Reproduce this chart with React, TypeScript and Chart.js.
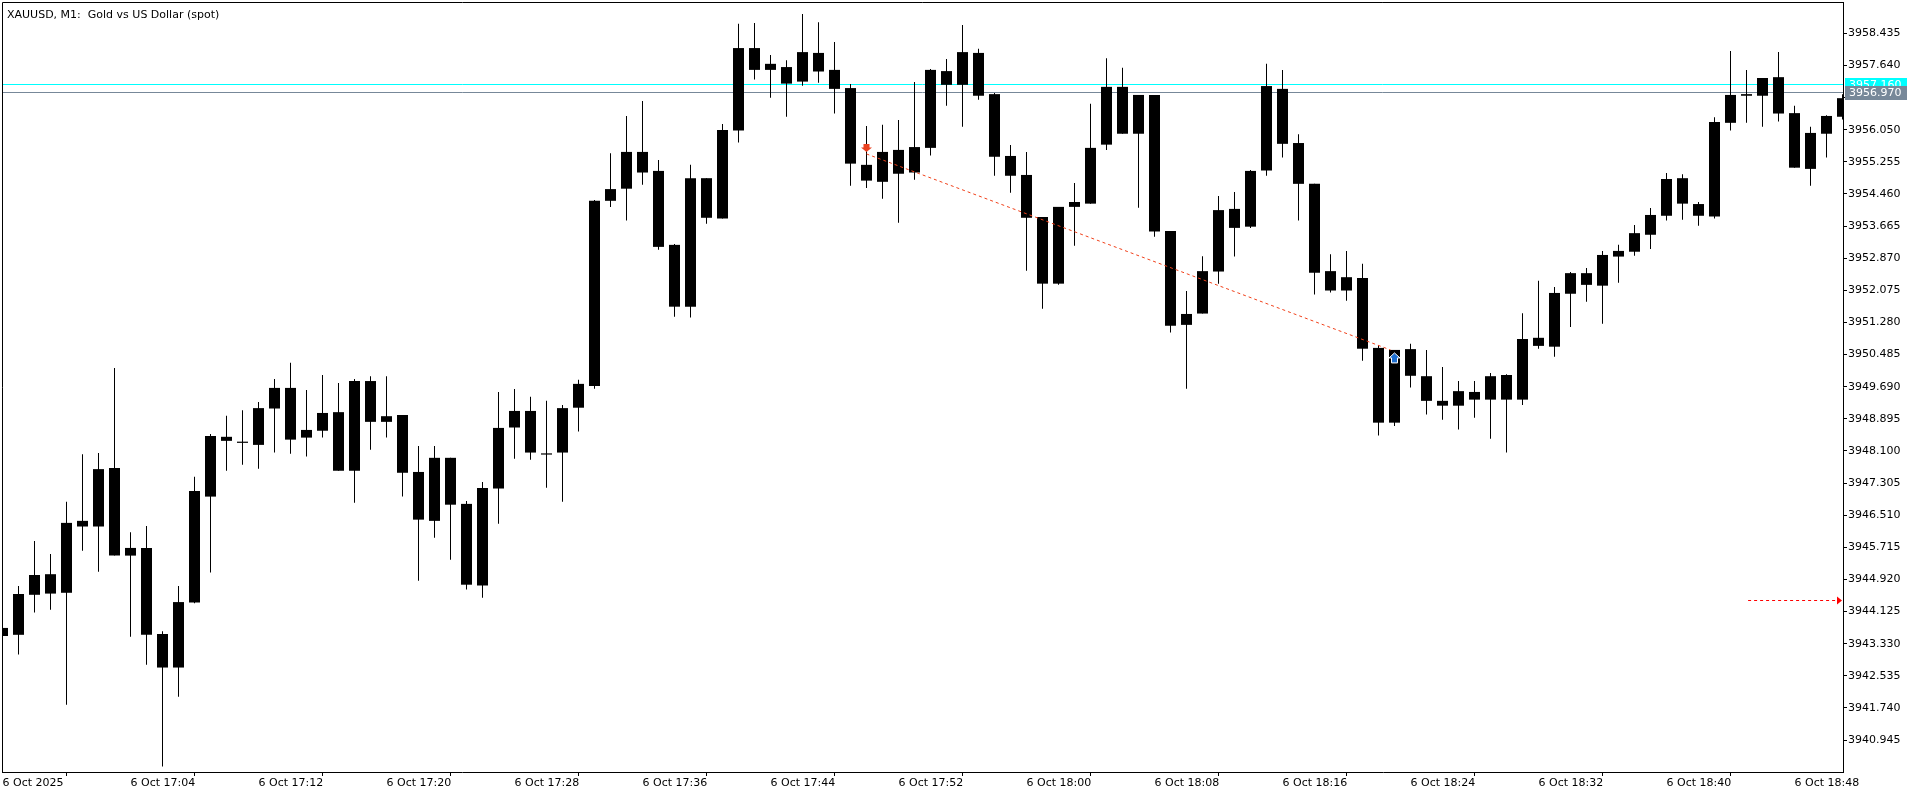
import React, { useEffect, useRef } from 'react';
import { Chart, registerables } from 'chart.js';

Chart.register(...registerables);

const TITLE = 'XAUUSD, M1:  Gold vs US Dollar (spot)';
const FONT = 'DejaVu Sans';

// one-minute bars, 16:56 .. 18:51 (category labels)
const times: string[] = Array.from({ length: 116 }, (_, i) => {
  const m = 16 * 60 + 56 + i;
  return `${Math.floor(m / 60)}:${String(m % 60).padStart(2, '0')}`;
});

const open = [3943.72,3943.55,3944.54,3945.05,3944.59,3946.37,3946.23,3947.68,3945.51,3945.70,
3943.57,3942.74,3944.35,3946.97,3948.45,3948.33,3948.25,3949.15,3949.66,3948.43,
3948.60,3949.06,3947.61,3949.83,3948.82,3948.99,3947.58,3946.37,3947.93,3946.79,
3944.77,3947.17,3948.68,3949.09,3948.04,3948.06,3949.17,3949.71,3954.29,3954.59,
3955.50,3955.03,3953.20,3951.67,3954.85,3953.85,3956.03,3958.07,3957.53,3957.60,
3957.24,3957.95,3957.53,3957.08,3955.18,3954.76,3955.55,3954.99,3955.60,3957.50,
3957.16,3957.95,3956.93,3955.40,3954.93,3953.89,3952.24,3954.14,3954.22,3955.68,
3957.11,3955.95,3956.91,3953.54,3951.22,3951.50,3952.54,3954.09,3953.65,3955.04,
3957.06,3955.72,3954.71,3952.55,3952.07,3952.38,3950.65,3948.80,3950.62,3949.95,
3949.34,3949.22,3949.56,3949.37,3949.98,3949.37,3950.90,3950.68,3951.99,3952.50,
3952.19,3952.91,3953.03,3953.45,3953.92,3954.85,3954.21,3953.90,3956.22,3956.93,
3956.89,3957.35,3956.46,3955.08,3955.95,3956.37];

const high = [3943.87,3944.76,3945.87,3945.55,3946.84,3948.02,3948.05,3950.15,3946.09,3946.24,
3943.64,3944.76,3947.46,3948.52,3948.97,3949.11,3949.31,3949.88,3950.28,3949.61,
3949.98,3949.78,3949.88,3949.95,3949.95,3948.99,3948.22,3948.22,3947.93,3946.86,
3947.33,3949.56,3949.63,3949.44,3949.34,3949.24,3949.86,3954.31,3955.47,3956.39,
3956.76,3955.30,3953.22,3955.18,3954.85,3956.19,3958.67,3958.69,3957.90,3957.77,
3958.91,3958.71,3958.22,3957.18,3956.14,3956.17,3956.29,3957.23,3957.55,3957.80,
3958.64,3958.05,3956.96,3955.67,3955.50,3953.89,3954.14,3954.73,3956.69,3957.82,
3957.58,3956.91,3956.91,3953.54,3952.06,3952.92,3954.41,3954.51,3955.05,3957.68,
3957.53,3955.94,3954.71,3952.97,3953.05,3952.73,3950.72,3950.60,3950.75,3950.60,
3950.18,3949.83,3949.83,3950.03,3950.00,3951.51,3952.31,3952.16,3952.53,3952.63,
3953.05,3953.20,3953.69,3954.11,3954.98,3954.95,3954.26,3956.36,3958.00,3957.53,
3957.33,3957.97,3956.64,3956.12,3956.41,3956.93];

const low = [3943.17,3943.06,3944.10,3944.17,3941.82,3945.63,3945.11,3945.51,3943.50,3942.81,
3940.29,3942.02,3944.33,3945.09,3947.61,3947.76,3947.66,3948.06,3948.03,3947.96,
3948.43,3947.61,3946.82,3948.13,3948.43,3946.97,3944.89,3945.95,3945.41,3944.67,
3944.47,3946.30,3947.91,3947.88,3947.19,3946.84,3948.58,3949.64,3954.14,3953.80,
3954.69,3953.08,3951.42,3951.40,3953.72,3953.85,3955.73,3957.29,3956.84,3956.37,
3957.14,3957.21,3956.45,3954.66,3954.61,3954.34,3953.75,3954.81,3955.41,3956.64,
3956.12,3956.79,3954.91,3954.49,3952.56,3951.62,3952.21,3953.18,3954.22,3955.55,
3955.95,3954.12,3953.40,3951.03,3949.64,3951.50,3952.24,3952.91,3953.62,3954.91,
3955.36,3953.80,3951.97,3952.02,3951.82,3950.33,3948.48,3948.72,3949.67,3949.00,
3948.87,3948.63,3948.92,3948.40,3948.06,3949.24,3950.63,3950.43,3951.17,3951.79,
3951.25,3952.26,3952.93,3953.10,3953.80,3953.82,3953.67,3953.85,3956.03,3956.22,
3956.12,3956.25,3955.11,3954.66,3955.36,3956.30];

const close = [3943.52,3944.56,3945.03,3944.57,3946.32,3946.23,3947.65,3945.51,3945.70,3943.55,
3942.74,3944.36,3947.11,3948.47,3948.35,3948.30,3949.16,3949.66,3948.38,3948.62,
3949.04,3947.61,3949.83,3948.82,3948.96,3947.56,3946.40,3947.93,3946.77,3944.79,
3947.18,3948.67,3949.09,3948.06,3948.01,3949.16,3949.76,3954.29,3954.58,3955.50,
3954.99,3953.15,3951.67,3954.85,3953.87,3956.04,3958.07,3957.53,3957.68,3957.19,
3957.97,3957.49,3957.06,3955.21,3954.79,3955.50,3954.96,3955.62,3957.53,3957.16,
3957.97,3956.89,3955.38,3954.91,3953.87,3952.24,3954.14,3954.26,3955.60,3957.11,
3955.95,3956.91,3953.53,3951.20,3951.49,3952.55,3954.06,3953.62,3955.03,3957.13,
3955.70,3954.71,3952.51,3952.07,3952.40,3950.63,3948.80,3950.60,3949.96,3949.34,
3949.22,3949.58,3949.37,3949.95,3949.37,3950.87,3950.70,3952.01,3952.50,3952.21,
3952.95,3953.05,3953.49,3953.94,3954.83,3954.22,3953.92,3956.24,3956.91,3956.89,
3957.33,3956.45,3955.11,3955.97,3956.39,3956.83];

const xTickTimes = ['16:56','17:04','17:12','17:20','17:28','17:36','17:44','17:52','18:00','18:08','18:16','18:24','18:32','18:40','18:48'];
const xTickLabels = ['6 Oct 2025','6 Oct 17:04','6 Oct 17:12','6 Oct 17:20','6 Oct 17:28','6 Oct 17:36','6 Oct 17:44','6 Oct 17:52','6 Oct 18:00','6 Oct 18:08','6 Oct 18:16','6 Oct 18:24','6 Oct 18:32','6 Oct 18:40','6 Oct 18:48'];

const yTickLabels = ['3940.945','3941.740','3942.535','3943.330','3944.125','3944.920','3945.715','3946.510','3947.305','3948.100','3948.895','3949.690','3950.485','3951.280','3952.075','3952.870','3953.665','3954.460','3955.255','3956.050','3956.845','3957.640','3958.435'];
const yMin = 3940.155;
const yMax = 3959.21;

const askPrice = 3957.16;
const bidPrice = 3956.97;

// closed sell trade: open -> close
const tradeTimes = ['17:50', '18:23'];
const tradePrices = [3955.45, 3950.60];

// dotted level arrow on the right
const levelPrice = 3944.40;
const levelStart = 109.1;

const mtPlugin = {
  id: 'mt',
  beforeDatasetsDraw(chart: any) {
    const { ctx, chartArea: a, scales } = chart;
    const y = scales.y;
    ctx.save();
    ctx.lineWidth = 1;
    const ya = Math.floor(y.getPixelForValue(askPrice)) + 0.5;
    ctx.strokeStyle = '#00ffff';
    ctx.beginPath(); ctx.moveTo(a.left, ya); ctx.lineTo(a.right, ya); ctx.stroke();
    const yb = Math.floor(y.getPixelForValue(bidPrice)) + 0.5;
    ctx.strokeStyle = '#778899';
    ctx.beginPath(); ctx.moveTo(a.left, yb); ctx.lineTo(a.right, yb); ctx.stroke();
    ctx.restore();
  },
  afterDatasetsDraw(chart: any) {
    const { ctx, chartArea: a, scales } = chart;
    const x = scales.x, y = scales.y;
    ctx.save();
    ctx.beginPath(); ctx.rect(a.left, a.top, a.right - a.left, a.bottom - a.top); ctx.clip();
    const i0 = times.indexOf(tradeTimes[0]);
    const i1 = times.indexOf(tradeTimes[1]);
    const x0 = x.getPixelForValue(i0), y0 = y.getPixelForValue(tradePrices[0]);
    const x1 = x.getPixelForValue(i1), y1 = y.getPixelForValue(tradePrices[1]);
    // dotted trade line
    ctx.strokeStyle = '#f0401a';
    ctx.lineWidth = 1;
    ctx.setLineDash([3, 3]);
    ctx.beginPath(); ctx.moveTo(x0, y0); ctx.lineTo(x1 - 4, y1); ctx.stroke();
    ctx.setLineDash([]);
    // sell arrow (down) above open point
    const tip = y0 - 2;
    ctx.fillStyle = '#ea4220';
    ctx.beginPath();
    ctx.moveTo(x0 - 3, tip - 8);
    ctx.lineTo(x0 + 3, tip - 8);
    ctx.lineTo(x0 + 3, tip - 4.5);
    ctx.lineTo(x0 + 5.5, tip - 4.5);
    ctx.lineTo(x0, tip);
    ctx.lineTo(x0 - 5.5, tip - 4.5);
    ctx.lineTo(x0 - 3, tip - 4.5);
    ctx.closePath();
    ctx.fill();
    // buy arrow (up) below close point
    const t2 = y1 + 3;
    ctx.fillStyle = '#1e6fd0';
    ctx.strokeStyle = '#ffffff';
    ctx.beginPath();
    ctx.moveTo(x1, t2);
    ctx.lineTo(x1 + 5.5, t2 + 5);
    ctx.lineTo(x1 + 3, t2 + 5);
    ctx.lineTo(x1 + 3, t2 + 10);
    ctx.lineTo(x1 - 3, t2 + 10);
    ctx.lineTo(x1 - 3, t2 + 5);
    ctx.lineTo(x1 - 5.5, t2 + 5);
    ctx.closePath();
    ctx.fill();
    ctx.stroke();
    // right-side dotted level arrow
    const yl = Math.floor(y.getPixelForValue(levelPrice)) + 0.5;
    const xs = x.getPixelForValue(levelStart);
    ctx.strokeStyle = '#ff0000';
    ctx.setLineDash([3, 3]);
    ctx.beginPath(); ctx.moveTo(xs, yl); ctx.lineTo(a.right - 6, yl); ctx.stroke();
    ctx.setLineDash([]);
    ctx.fillStyle = '#ff0000';
    ctx.beginPath();
    ctx.moveTo(a.right - 6, yl - 4);
    ctx.lineTo(a.right - 1, yl);
    ctx.lineTo(a.right - 6, yl + 4);
    ctx.closePath();
    ctx.fill();
    ctx.restore();
  },
  afterDraw(chart: any) {
    const { ctx, chartArea: a, scales } = chart;
    const y = scales.y;
    ctx.save();
    // frame left/top
    ctx.strokeStyle = '#000';
    ctx.lineWidth = 1;
    ctx.beginPath();
    ctx.moveTo(a.left + 0.5, a.bottom);
    ctx.lineTo(a.left + 0.5, a.top + 0.5);
    ctx.lineTo(a.right, a.top + 0.5);
    ctx.stroke();
    // title
    ctx.fillStyle = '#000';
    ctx.font = `11px "${FONT}"`;
    ctx.textBaseline = 'alphabetic';
    ctx.textAlign = 'left';
    ctx.fillText(TITLE, a.left + 5, 18);
    // price labels
    const drawLabel = (price: number, bg: string) => {
      const cy = y.getPixelForValue(price);
      const top = Math.round(cy - 7);
      ctx.fillStyle = bg;
      ctx.fillRect(a.right + 2, top, 62, 14);
      ctx.fillStyle = '#ffffff';
      ctx.textBaseline = 'middle';
      ctx.fillText(price.toFixed(3), a.right + 6, top + 7.5);
    };
    drawLabel(askPrice, '#00ffff');
    drawLabel(bidPrice, '#778899');
    ctx.restore();
  },
};

export default function App() {
  const ref = useRef<HTMLCanvasElement>(null);
  useEffect(() => {
    document.body.style.margin = '0';
    const wickData = times.map((_, i) => ({ x: i, y: [low[i], high[i]] }));
    const bodyData = times.map((_, i) => ({ x: i, y: [Math.min(open[i], close[i]), Math.max(open[i], close[i])] }));
    const font = { family: FONT, size: 11 };
    const chart = new Chart(ref.current as HTMLCanvasElement, {
      type: 'bar',
      data: {
        datasets: [
          { data: wickData as any, backgroundColor: '#000', borderWidth: 0, barThickness: 1, grouped: false, inflateAmount: 0 } as any,
          { data: bodyData as any, backgroundColor: '#000', borderWidth: 0, barThickness: 11, grouped: false, inflateAmount: 0, minBarLength: 1 } as any,
        ],
      },
      options: {
        responsive: false,
        devicePixelRatio: 1,
        animation: false,
        events: [],
        layout: { padding: { left: 2, top: 2, right: 0, bottom: 0 } },
        plugins: { legend: { display: false }, tooltip: { enabled: false } },
        scales: {
          x: {
            type: 'linear',
            position: 'bottom',
            min: -0.03125,
            max: 115.03125,
            offset: false,
            afterBuildTicks: (s: any) => { s.ticks = xTickTimes.map((t) => ({ value: times.indexOf(t) })); },
            afterFit: (s: any) => { s.height = 24; s.paddingLeft = 0; s.paddingRight = 0; },
            ticks: {
              autoSkip: false, maxRotation: 0, minRotation: 0, align: 'start', padding: 1, color: '#000', font,
              callback: (v: any) => xTickLabels[xTickTimes.indexOf(times[Math.round(Number(v))])] ?? '',
            },
            grid: { drawOnChartArea: false, drawTicks: true, tickLength: 4, color: '#000', lineWidth: 1 },
            border: { display: true, color: '#000', width: 1 },
          } as any,
          y: {
            type: 'linear',
            position: 'right',
            min: yMin,
            max: yMax,
            afterBuildTicks: (s: any) => { s.ticks = yTickLabels.map((l) => ({ value: parseFloat(l) })); },
            afterFit: (s: any) => { s.width = 77; s.paddingTop = 0; s.paddingBottom = 0; },
            ticks: { autoSkip: false, padding: 1, color: '#000', font, callback: (v: any) => Number(v).toFixed(3) },
            grid: { drawOnChartArea: false, drawTicks: true, tickLength: 4, color: '#000', lineWidth: 1 },
            border: { display: true, color: '#000', width: 1 },
          } as any,
        },
      },
      plugins: [mtPlugin],
    });
    return () => chart.destroy();
  }, []);
  return (
    <div style={{ position: 'absolute', left: 0, top: 0, width: 1920, height: 796, background: '#fff' }}>
      <canvas ref={ref} width={1920} height={796} style={{ display: 'block', width: 1920, height: 796 }} />
    </div>
  );
}
